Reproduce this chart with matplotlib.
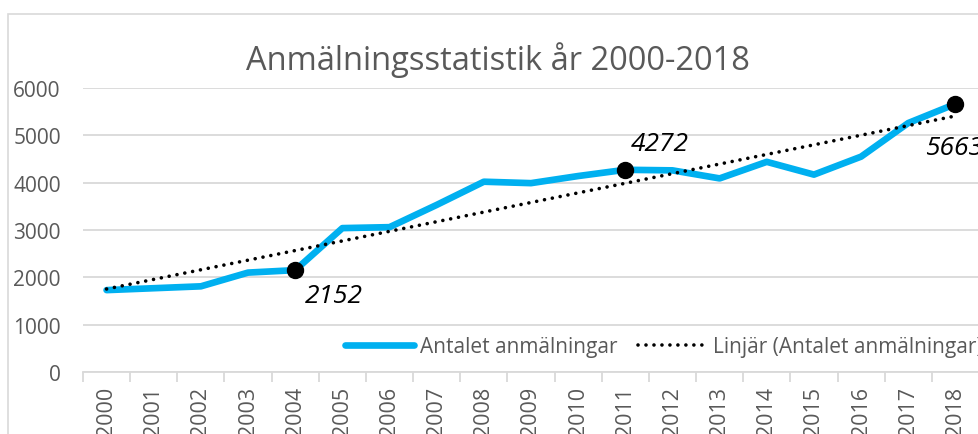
import numpy as np
import matplotlib
matplotlib.use("Agg")
import matplotlib.pyplot as plt
from matplotlib.patches import Rectangle

plt.rcParams['font.family'] = ['Open Sans', 'DejaVu Sans']

ar = [str(a) for a in range(2000, 2019)]
anmalningar = [1730, 1770, 1810, 2100, 2152, 3040, 3060, 3530, 4020, 3990,
               4140, 4272, 4260, 4090, 4440, 4170, 4550, 5260, 5663]
markerade = [4, 11, 18]

grid_farg = '#d9d9d9'
text_farg = '#595959'
blå = '#00b0f0'

x = np.arange(len(ar))
k, m = np.polyfit(x, anmalningar, 1)
trend = k * x + m

fig = plt.figure(figsize=(9.79, 4.35), dpi=100)
ax = fig.add_axes([83 / 979, 62 / 435, 896 / 979, (373 - 89) / 435])

# ram runt diagrammet
fig.patches.append(Rectangle((8 / 979, -0.2), 1.2, (435 - 15) / 435 + 0.2,
                             transform=fig.transFigure, fill=False,
                             edgecolor=grid_farg, linewidth=1.2))

ax.plot(x, anmalningar, color=blå, linewidth=4.8, solid_capstyle='round',
        label='Antalet anmälningar', zorder=3)
ax.plot(x, trend, color='black', linestyle=(0, (0.01, 2.2)), linewidth=2.6,
        dash_capstyle='round', label='Linjär (Antalet anmälningar)', zorder=4)

for i in markerade:
    ax.plot(x[i], anmalningar[i], 'o', color='black', markersize=11.5, zorder=5)
ax.annotate(str(anmalningar[4]), (x[4], anmalningar[4]), xytext=(7, -9),
            textcoords='offset points', ha='left', va='top', fontsize=19, style='italic')
ax.annotate(str(anmalningar[11]), (x[11], anmalningar[11]), xytext=(4, 10),
            textcoords='offset points', ha='left', va='bottom', fontsize=19, style='italic')
ax.annotate(str(anmalningar[18]), (x[18], anmalningar[18]), xytext=(-22, -22),
            textcoords='offset points', ha='left', va='top', fontsize=19, style='italic')

ax.set_xlim(-0.5, len(ar) - 0.5)
ax.set_ylim(0, 6000)
ax.set_yticks(range(0, 6001, 1000))
ax.set_xticks(x)
ax.set_xticklabels(ar, rotation=90, fontsize=15.5, color=text_farg)
ax.set_xticks(np.arange(-0.5, len(ar), 1), minor=True)
ax.tick_params(axis='x', which='major', length=0, pad=10)
ax.tick_params(axis='x', which='minor', length=7, color=grid_farg, width=1.3)
ax.tick_params(axis='y', length=0, labelsize=15, labelcolor=text_farg, pad=16)
ax.grid(axis='y', color=grid_farg, linewidth=1.3)
ax.set_axisbelow(True)
for s in ['top', 'right', 'left']:
    ax.spines[s].set_visible(False)
ax.spines['bottom'].set_color(grid_farg)
ax.spines['bottom'].set_linewidth(1.3)

fig.text(498 / 979, 1 - 60 / 435, 'Anmälningsstatistik år 2000-2018', ha='center',
         va='center', fontsize=23.5, color=text_farg)

leg = ax.legend(loc='center left', bbox_to_anchor=(262 / 896, 25 / 284), ncol=2,
                frameon=False, fontsize=15, handlelength=3.3, handletextpad=0.3,
                columnspacing=1.0, borderaxespad=0, borderpad=0)
for t in leg.get_texts():
    t.set_color(text_farg)

fig.savefig('out.png', dpi=100)
